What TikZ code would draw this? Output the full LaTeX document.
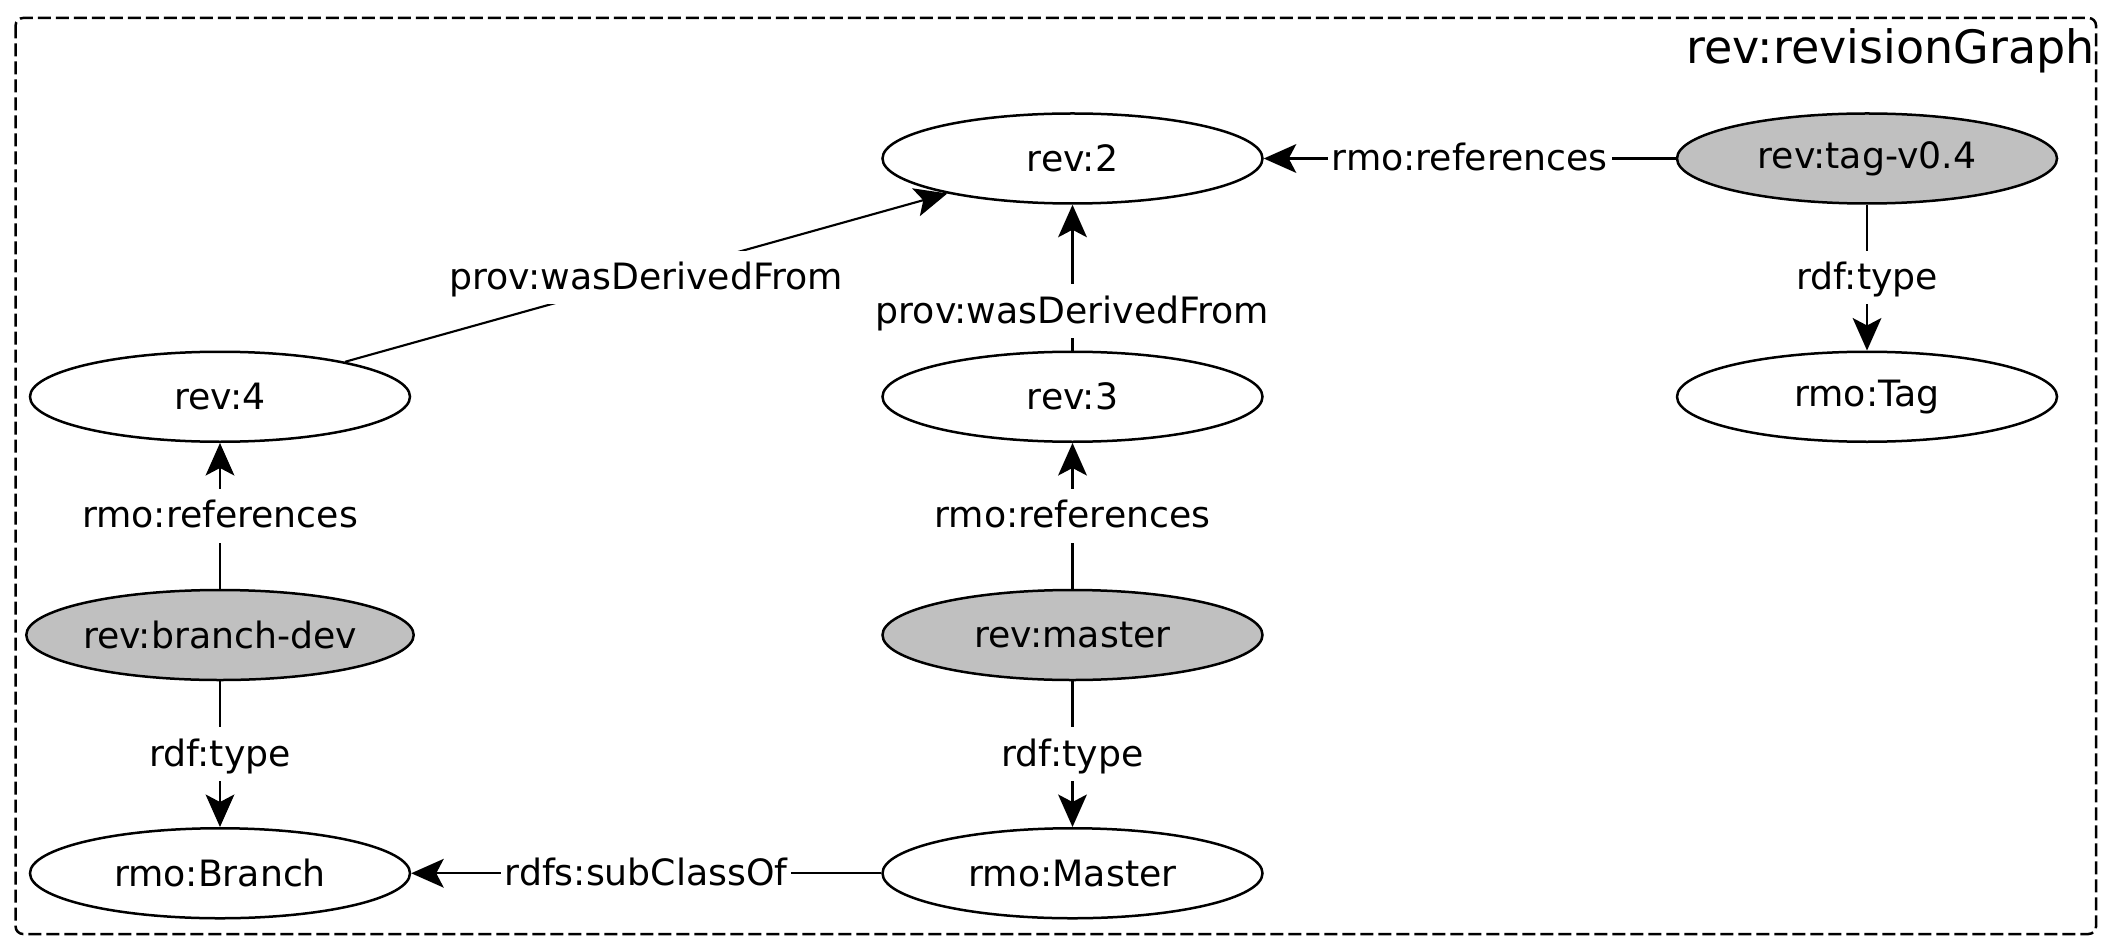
\documentclass[tikz,border=0pt]{standalone}
\usepackage{fontspec}
\setmainfont{DejaVu Sans}
\usepackage{xcolor}
\usepackage{tikz}
\usetikzlibrary{arrows.meta,positioning,shapes.geometric}
\definecolor{refgray}{HTML}{C0C0C0}

\begin{document}
\begin{tikzpicture}[x=0.4pt,y=-0.4pt,node distance=58.3pt,
  ent/.style={ellipse,draw,line width=1pt,inner sep=0pt,minimum width=152pt,minimum height=36pt,
    font=\fontsize{14.5}{17.4}\selectfont,fill=#1},
  ent/.default=white,
  edge/.style={-{Stealth[length=13pt,width=11.5pt,inset=3pt]},line width=0.85pt},
  lbl/.style={fill=white,inner xsep=1.5pt,inner ysep=3.5pt,text height=12pt,text depth=2.5pt,
    font=\fontsize{14.5}{17.4}\selectfont}]
  \useasboundingbox (0,0) rectangle (2112,951);
  \draw[line width=1pt,dash pattern=on 5.2pt off 2pt,rounded corners=3pt] (15.6,18) rectangle (2096,934);
  \node[anchor=base east,inner sep=0pt,font=\fontsize{18.4}{22}\selectfont] (title) at (2095,64) {rev:revisionGraph};
  % middle column
  \node[ent] (rev2) at (1072.5,158.5) {rev:2};
  \node[ent,below=of rev2] (rev3) {rev:3};
  \node[ent=refgray,below=of rev3] (master) {rev:master};
  \node[ent,below=of master] (Master) {rmo:Master};
  % left column
  \node[ent,left=188pt of rev3] (rev4) {rev:4};
  \node[ent=refgray,below=of rev4] (dev) {rev:branch-dev};
  \node[ent,below=of dev] (Branch) {rmo:Branch};
  % right column
  \node[ent=refgray,right=164.8pt of rev2] (tag) {rev:tag-v0.4};
  \node[ent,below=of tag] (Tag) {rmo:Tag};
  % edges
  \draw[edge] (rev4) -- node[lbl] {prov:wasDerivedFrom} (rev2);
  \draw[edge] (rev3) -- node[lbl,pos=0.27] {prov:wasDerivedFrom} (rev2);
  \draw[edge] (tag) -- node[lbl] {rmo:references} (rev2);
  \draw[edge] (tag) -- node[lbl] {rdf:type} (Tag);
  \draw[edge] (dev) -- node[lbl] {rmo:references} (rev4);
  \draw[edge] (master) -- node[lbl] {rmo:references} (rev3);
  \draw[edge] (dev) -- node[lbl] {rdf:type} (Branch);
  \draw[edge] (master) -- node[lbl] {rdf:type} (Master);
  \draw[edge] (Master) -- node[lbl] {rdfs:subClassOf} (Branch);
\end{tikzpicture}
\end{document}
